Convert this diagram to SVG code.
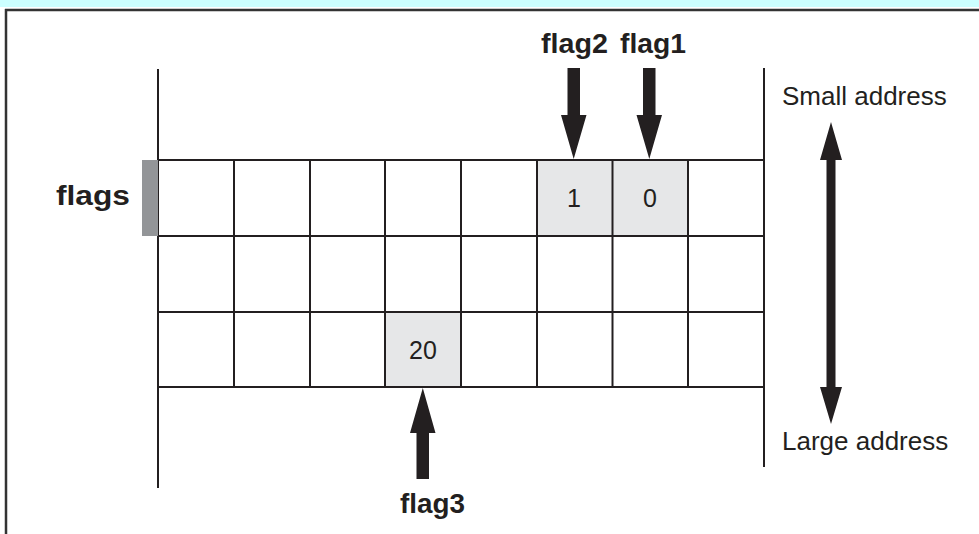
<svg xmlns="http://www.w3.org/2000/svg" width="979" height="534" viewBox="0 0 979 534">
<style>
.grid{stroke:#231f20;stroke-width:2;fill:none}
.cell{fill:#e6e7e8}
.num{font-family:"Liberation Sans",Arial,sans-serif;font-size:25px;fill:#231f20;text-anchor:middle}
.lbl{font-family:"Liberation Sans",Arial,sans-serif;font-size:28px;font-weight:bold;fill:#231f20}
.addr{font-family:"Liberation Sans",Arial,sans-serif;font-size:26px;fill:#231f20}
.arr{fill:#231f20}
</style>
<rect x="0" y="0" width="979" height="534" fill="#ffffff"/>
<rect x="0" y="0" width="979" height="7" fill="#ccffff"/>
<g id="frame">
<line x1="5" y1="10" x2="979" y2="10" stroke="#333" stroke-width="2.5"/>
<line x1="6" y1="9" x2="6" y2="534" stroke="#333" stroke-width="2.5"/>
</g>
<g id="cells">
<rect class="cell" x="537" y="160" width="75.5" height="76"/>
<rect class="cell" x="612.5" y="160" width="75.5" height="76"/>
<rect class="cell" x="385" y="312" width="76" height="75"/>
</g>
<g id="grid" class="grid">
<line x1="158" y1="69" x2="158" y2="488"/>
<line x1="764" y1="68" x2="764" y2="467"/>
<line x1="158" y1="160" x2="764" y2="160"/>
<line x1="158" y1="236" x2="764" y2="236"/>
<line x1="158" y1="312" x2="764" y2="312"/>
<line x1="158" y1="387" x2="764" y2="387"/>
<line x1="234" y1="160" x2="234" y2="387"/>
<line x1="310" y1="160" x2="310" y2="387"/>
<line x1="385" y1="160" x2="385" y2="387"/>
<line x1="461" y1="160" x2="461" y2="387"/>
<line x1="537" y1="160" x2="537" y2="387"/>
<line x1="612.5" y1="160" x2="612.5" y2="387"/>
<line x1="688" y1="160" x2="688" y2="387"/>
</g>
<g id="flags-node">
<rect x="142" y="160" width="16" height="76" fill="#939598"/>
<text class="lbl" x="56" y="205" textLength="74" lengthAdjust="spacingAndGlyphs">flags</text>
</g>
<g id="values">
<text class="num" x="574" y="207">1</text>
<text class="num" x="650" y="207">0</text>
<text class="num" x="423" y="359">20</text>
</g>
<g id="connectors">
<polygon class="arr" points="567.5,68 580,68 580,115 586.5,115 573.7,159 561,115 567.5,115"/>
<polygon class="arr" points="643,68 655.5,68 655.5,115 662,115 649.3,159 636.5,115 643,115"/>
<polygon class="arr" points="416.5,479 429,479 429,433 435.5,433 422.8,388 410,433 416.5,433"/>
<polygon class="arr" points="831,122 842,160 835.5,160 835.5,387 842,387 831,424 820,387 826.5,387 826.5,160 820,160"/>
</g>
<g id="labels">
<text class="lbl" x="541" y="53" textLength="67" lengthAdjust="spacingAndGlyphs">flag2</text>
<text class="lbl" x="620" y="53" textLength="66" lengthAdjust="spacingAndGlyphs">flag1</text>
<text class="lbl" x="400" y="513" textLength="65" lengthAdjust="spacingAndGlyphs">flag3</text>
<text class="addr" x="782" y="105">Small address</text>
<text class="addr" x="782" y="450">Large address</text>
</g>
</svg>
